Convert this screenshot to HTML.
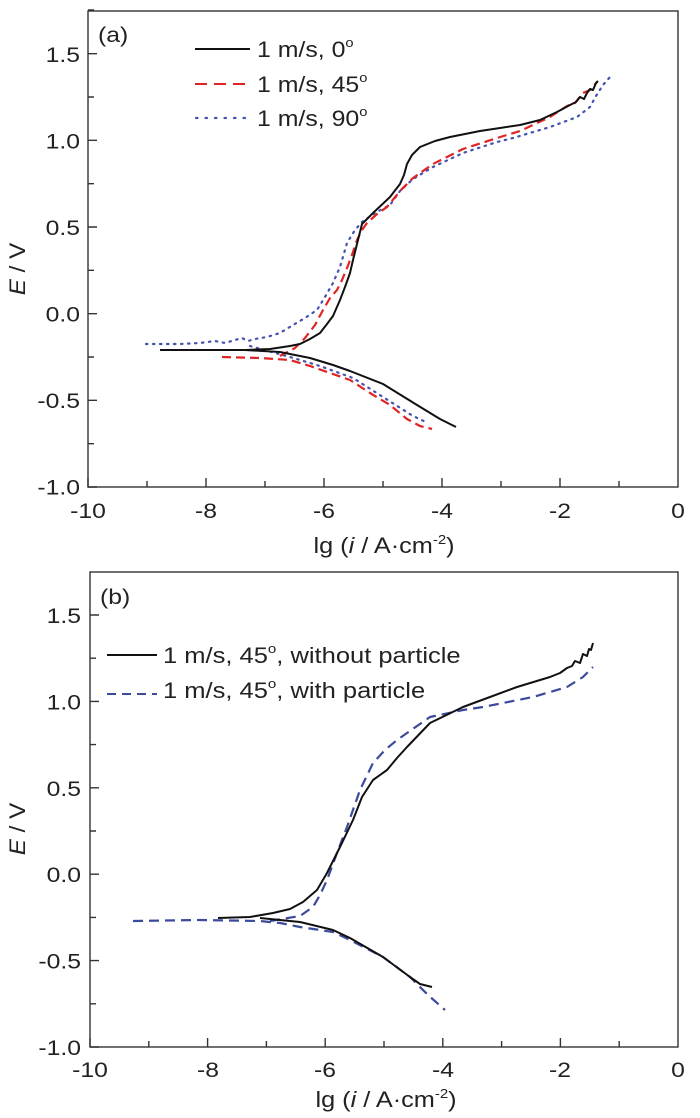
<!DOCTYPE html>
<html><head><meta charset="utf-8"><style>
html,body{margin:0;padding:0;background:#fff;}
svg{display:block;}
text{font-family:"Liberation Sans",Arial,sans-serif;fill:#222;}
</style></head><body>
<svg width="700" height="1118" viewBox="0 0 700 1118" xmlns="http://www.w3.org/2000/svg">
<!-- ============ Panel (a) ============ -->
<g stroke="#333" stroke-width="1.4" fill="none">
<rect x="88" y="11" width="590" height="476"/>
<path d="M88,487v-9 M147,487v-6 M206,487v-9 M265,487v-6 M324,487v-9 M383,487v-6 M442,487v-9 M501,487v-6 M560,487v-9 M619,487v-6"/>
<path d="M88,487h9 M88,443.7h6 M88,400.3h9 M88,357h6 M88,313.7h9 M88,270.3h6 M88,227h9 M88,183.7h6 M88,140.3h9 M88,97h6 M88,53.7h9 M88,10h6"/>
</g>
<g font-size="21.5" text-anchor="end">
<text transform="translate(80,62) scale(1.15,1)">1.5</text>
<text transform="translate(80,148.5) scale(1.15,1)">1.0</text>
<text transform="translate(80,235) scale(1.15,1)">0.5</text>
<text transform="translate(80,321.5) scale(1.15,1)">0.0</text>
<text transform="translate(80,408) scale(1.15,1)">-0.5</text>
<text transform="translate(80,494.5) scale(1.15,1)">-1.0</text>
</g>
<g font-size="21.5" text-anchor="middle">
<text transform="translate(88,518) scale(1.15,1)">-10</text>
<text transform="translate(206,518) scale(1.15,1)">-8</text>
<text transform="translate(324,518) scale(1.15,1)">-6</text>
<text transform="translate(442,518) scale(1.15,1)">-4</text>
<text transform="translate(560,518) scale(1.15,1)">-2</text>
<text transform="translate(678,518) scale(1.15,1)">0</text>
</g>
<text transform="translate(384,553) scale(1.15,1)" font-size="22" text-anchor="middle">lg (<tspan font-style="italic">i</tspan> / A·cm<tspan font-size="13" dy="-9">-2</tspan><tspan dy="9">)</tspan></text>
<text transform="translate(25,269) rotate(-90) scale(1.1,1)" font-size="22" text-anchor="middle"><tspan font-style="italic">E</tspan> / V</text>
<text transform="translate(98,42) scale(1.15,1)" font-size="21.5">(a)</text>
<!-- legend a -->
<line x1="195" y1="49" x2="250" y2="49" stroke="#111" stroke-width="2"/>
<line x1="195" y1="84" x2="250" y2="84" stroke="#e02424" stroke-width="2" stroke-dasharray="12,7"/>
<line x1="196" y1="118" x2="250" y2="118" stroke="#4452b0" stroke-width="2.2" stroke-dasharray="1.5,8" stroke-linecap="round"/>
<g font-size="22">
<text transform="translate(257,57) scale(1.13,1)">1 m/s, 0<tspan font-size="13" dy="-10">o</tspan></text>
<text transform="translate(257,92) scale(1.13,1)">1 m/s, 45<tspan font-size="13" dy="-10">o</tspan></text>
<text transform="translate(257,126) scale(1.13,1)">1 m/s, 90<tspan font-size="13" dy="-10">o</tspan></text>
</g>
<!-- curves a -->
<g fill="none" stroke-linejoin="round">
<path stroke="#4452b0" stroke-width="2.2" stroke-dasharray="1.5,5.5" stroke-linecap="round" d="M146,344 L180,344 L200,343 L215,341 L225,343 L235,340 L242,338 L248,341 L255,339 L267,337 L280,333 L293,325 L305,318 L317,310 L325,297 L333,283 L340,267 L347,243 L355,230 L362,222 L375,213 L390,205 L400,191 L413,179 L433,167 L463,153 L497,142 L513,138 L550,127 L577,117 L590,107 L596,96 L603,85 L610,77"/>
<path stroke="#4452b0" stroke-width="2.2" stroke-dasharray="1.5,5.5" stroke-linecap="round" d="M250,346 L290,357 L320,366 L353,378 L383,397 L413,416 L428,423"/>
<path stroke="#e02424" stroke-width="2.2" stroke-dasharray="9,5" d="M222,357 L260,358 L290,360 L310,366 L330,373 L350,380 L370,393 L390,405 L407,419 L420,426 L432,429"/>
<path stroke="#e02424" stroke-width="2.2" stroke-dasharray="9,5" d="M280,356 L295,348 L305,338 L315,325 L323,310 L330,298 L337,290 L342,280 L347,268 L352,255 L357,240 L362,230 L367,223 L377,214 L387,207 L400,191 L413,178 L433,164 L463,149 L497,138 L520,131 L550,117 L567,106 L575,103 L583,93 L590,90 L597,82"/>
<path stroke="#111" stroke-width="2" d="M160,350 L200,350 L245,350 L270,349 L290,346 L300,344 L310,339 L320,333 L327,324 L333,316 L340,300 L345,287 L350,273 L353,260 L356,248 L362,224 L373,213 L390,197 L400,184 L404,175 L407,164 L412,155 L420,147 L435,141 L450,137 L480,131 L500,128 L520,125 L540,120 L557,112 L570,105 L576,102 L580,97 L584,99 L587,93 L590,89 L593,90 L596,83 L598,81"/>
<path stroke="#111" stroke-width="2" d="M245,350 L280,352 L310,358 L333,365 L350,371 L383,384 L417,405 L440,419 L450,424 L456,427"/>
</g>

<!-- ============ Panel (b) ============ -->
<g stroke="#333" stroke-width="1.4" fill="none">
<rect x="90" y="572" width="588" height="475"/>
<path d="M90,1047v-9 M148.8,1047v-6 M207.6,1047v-9 M266.4,1047v-6 M325.2,1047v-9 M384,1047v-6 M442.8,1047v-9 M501.6,1047v-6 M560.4,1047v-9 M619.2,1047v-6"/>
<path d="M90,1047h9 M90,1003.8h6 M90,960.6h9 M90,917.4h6 M90,874.2h9 M90,831h6 M90,787.8h9 M90,744.6h6 M90,701.4h9 M90,658.2h6 M90,615h9"/>
</g>
<g font-size="21.5" text-anchor="end">
<text transform="translate(81,623) scale(1.15,1)">1.5</text>
<text transform="translate(81,709.5) scale(1.15,1)">1.0</text>
<text transform="translate(81,796) scale(1.15,1)">0.5</text>
<text transform="translate(81,882) scale(1.15,1)">0.0</text>
<text transform="translate(81,968.5) scale(1.15,1)">-0.5</text>
<text transform="translate(81,1055) scale(1.15,1)">-1.0</text>
</g>
<g font-size="21.5" text-anchor="middle">
<text transform="translate(90,1077) scale(1.15,1)">-10</text>
<text transform="translate(208,1077) scale(1.15,1)">-8</text>
<text transform="translate(325,1077) scale(1.15,1)">-6</text>
<text transform="translate(443,1077) scale(1.15,1)">-4</text>
<text transform="translate(560,1077) scale(1.15,1)">-2</text>
<text transform="translate(678,1077) scale(1.15,1)">0</text>
</g>
<text transform="translate(386,1107) scale(1.15,1)" font-size="22" text-anchor="middle">lg (<tspan font-style="italic">i</tspan> / A·cm<tspan font-size="13" dy="-9">-2</tspan><tspan dy="9">)</tspan></text>
<text transform="translate(25,829) rotate(-90) scale(1.1,1)" font-size="22" text-anchor="middle"><tspan font-style="italic">E</tspan> / V</text>
<text transform="translate(100,604) scale(1.15,1)" font-size="21.5">(b)</text>
<!-- legend b -->
<line x1="107" y1="655" x2="157" y2="655" stroke="#111" stroke-width="2"/>
<line x1="107" y1="694" x2="157" y2="694" stroke="#3c4a9c" stroke-width="2" stroke-dasharray="9,6"/>
<g font-size="22">
<text transform="translate(163,663) scale(1.16,1)">1 m/s, 45<tspan font-size="13" dy="-10">o</tspan><tspan dy="10">, without particle</tspan></text>
<text transform="translate(163,698) scale(1.16,1)">1 m/s, 45<tspan font-size="13" dy="-10">o</tspan><tspan dy="10">, with particle</tspan></text>
</g>
<!-- curves b -->
<g fill="none" stroke-linejoin="round">
<path stroke="#3c4a9c" stroke-width="2.2" stroke-dasharray="10,6" d="M133,921 L200,920 L260,921 L280,923 L300,927 L333,932 L350,940 L383,957 L410,977 L428,995 L445,1010"/>
<path stroke="#3c4a9c" stroke-width="2.2" stroke-dasharray="10,6" d="M270,921 L300,916 L313,907 L320,895 L327,880 L337,853 L347,827 L360,790 L373,763 L385,750 L397,740 L430,717 L463,710 L483,707 L533,697 L567,687 L583,677 L593,667"/>
<path stroke="#111" stroke-width="2" d="M218,918 L250,917 L273,913 L290,909 L303,902 L317,890 L327,873 L340,847 L353,820 L362,797 L373,780 L387,770 L397,758 L407,747 L430,723 L463,707 L490,697 L517,687 L550,677 L560,673 L567,668 L572,666 L575,661 L580,663 L583,654 L587,656 L589,649 L591,650 L593,643"/>
<path stroke="#111" stroke-width="2" d="M260,918 L300,922 L333,930 L350,938 L383,957 L410,977 L420,984 L432,987"/>
</g>
</svg>
</body></html>
